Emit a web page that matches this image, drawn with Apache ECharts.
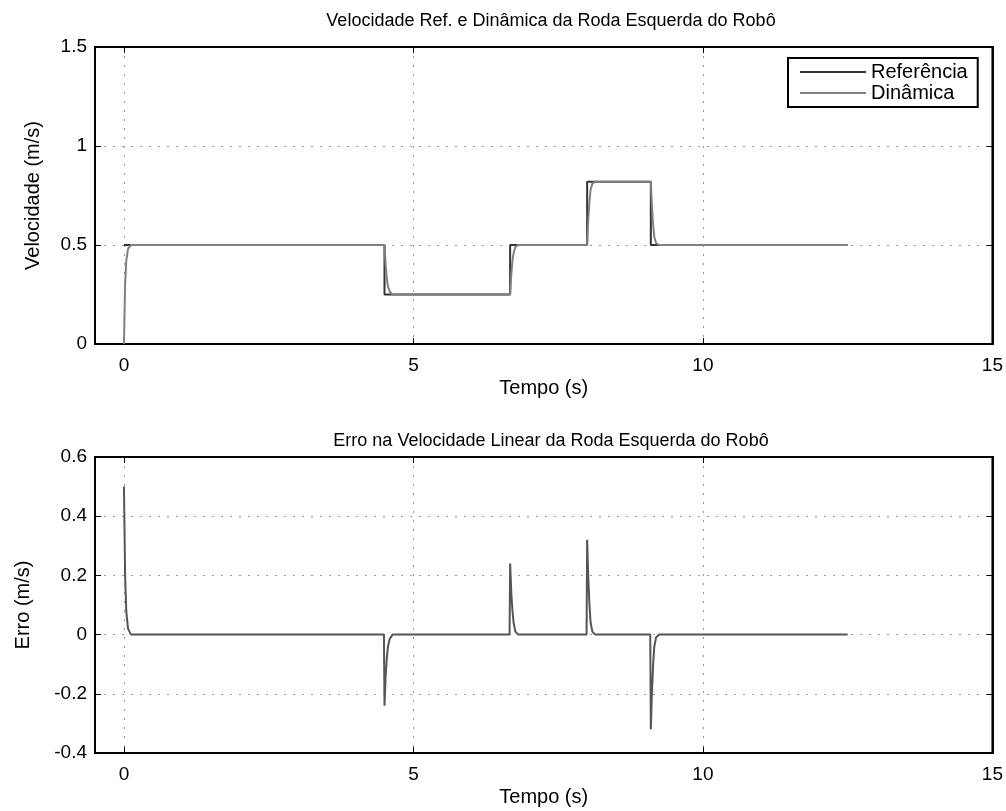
<!DOCTYPE html>
<html>
<head>
<meta charset="utf-8">
<title>Velocidade Roda Esquerda</title>
<script src="https://cdn.jsdelivr.net/npm/echarts@6/dist/echarts.min.js"></script>
<style>
  html, body { margin: 0; padding: 0; background: #fff; }
  #main { width: 1006px; height: 811px; }
</style>
</head>
<body>
<div id="main"></div>
<script>
// tempo (s) e valores
var xTicks = [0, 5, 10, 15];

// referencia (degraus)
var refT = [0, 4.5, 4.5, 6.67, 6.67, 8.0, 8.0, 9.1, 9.1, 12.5];
var refV = [0.5, 0.5, 0.25, 0.25, 0.5, 0.5, 0.82, 0.82, 0.5, 0.5];

// dinamica da roda
var dynT = [0, 0.02, 0.04, 0.07, 0.12, 4.5, 4.52, 4.54, 4.56, 4.59, 4.64, 6.67, 6.69, 6.71, 6.73, 6.76, 6.81,
            8.0, 8.02, 8.04, 8.06, 8.09, 8.14, 9.1, 9.12, 9.14, 9.16, 9.19, 9.24, 12.5];
var dynV = [0, 0.3, 0.42, 0.48, 0.5, 0.5, 0.4, 0.33, 0.29, 0.265, 0.25, 0.25, 0.35, 0.42, 0.46, 0.49, 0.5,
            0.5, 0.63, 0.72, 0.78, 0.81, 0.82, 0.82, 0.69, 0.6, 0.54, 0.51, 0.5, 0.5];

// erro
var errT = [0, 0.02, 0.04, 0.07, 0.12, 4.49, 4.5, 4.52, 4.54, 4.56, 4.59, 4.64, 6.66, 6.67, 6.69, 6.71, 6.73, 6.76, 6.81,
            7.99, 8.0, 8.02, 8.04, 8.06, 8.09, 8.14, 9.09, 9.1, 9.12, 9.14, 9.16, 9.19, 9.24, 12.5];
var errV = [0.5, 0.2, 0.08, 0.02, 0, 0, -0.24, -0.14, -0.08, -0.04, -0.015, 0, 0, 0.24, 0.14, 0.08, 0.04, 0.01, 0,
            0, 0.32, 0.19, 0.1, 0.04, 0.01, 0, 0, -0.32, -0.19, -0.1, -0.04, -0.01, 0, 0];

function zip(a, b) {
  var out = [];
  for (var i = 0; i < a.length; i++) out.push([a[i], b[i]]);
  return out;
}

var font = 'Liberation Sans, Arial, sans-serif';
var gridLine = { show: true, lineStyle: { color: '#999', width: 1, type: [2, 7] } };

function xAx(gi, bottom) {
  return {
    type: 'value', gridIndex: gi, min: -0.5, max: 15,
    position: bottom ? 'bottom' : 'top',
    name: bottom ? 'Tempo (s)' : '', nameLocation: 'middle', nameGap: 34,
    nameTextStyle: { color: '#000', fontSize: 20, fontFamily: font },
    axisLine: { show: true, onZero: false, lineStyle: { color: '#000', width: 2 } },
    axisTick: { show: true, inside: true, length: 6, customValues: xTicks, lineStyle: { color: '#000' } },
    axisLabel: { show: bottom, customValues: xTicks, color: '#000', fontSize: 19, fontFamily: font, margin: 12 },
    splitLine: bottom ? gridLine : { show: false }
  };
}

function yAx(gi, left, min, max, step, name, gap) {
  return {
    type: 'value', gridIndex: gi, min: min, max: max, interval: step,
    position: left ? 'left' : 'right',
    name: left ? name : '', nameLocation: 'middle', nameGap: gap,
    nameTextStyle: { color: '#000', fontSize: 20, fontFamily: font },
    axisLine: { show: true, onZero: false, lineStyle: { color: '#000', width: 2 } },
    axisTick: { show: true, inside: true, length: 6, lineStyle: { color: '#000' } },
    axisLabel: { show: left, color: '#000', fontSize: 19, fontFamily: font, margin: 8 },
    splitLine: left ? gridLine : { show: false }
  };
}

var chart = echarts.init(document.getElementById('main'));
chart.setOption({
  backgroundColor: '#fff',
  animation: false,
  title: [
    { text: 'Velocidade Ref. e Dinâmica da Roda Esquerda do Robô', left: 546, top: 7, textAlign: 'center',
      textStyle: { color: '#000', fontSize: 18, fontWeight: 'normal', fontFamily: font } },
    { text: 'Erro na Velocidade Linear da Roda Esquerda do Robô', left: 546, top: 427, textAlign: 'center',
      textStyle: { color: '#000', fontSize: 18, fontWeight: 'normal', fontFamily: font } }
  ],
  legend: {
    data: ['Referência', 'Dinâmica'],
    orient: 'vertical', left: 788, top: 58,
    icon: 'rect', itemWidth: 66, itemHeight: 2, itemGap: 1,
    padding: [4, 10, 4, 12],
    backgroundColor: '#fff', borderColor: '#000', borderWidth: 2,
    textStyle: { color: '#000', fontSize: 20, fontFamily: font }
  },
  grid: [
    { left: 95, right: 13, top: 47, height: 297, show: true, borderColor: '#000', borderWidth: 2 },
    { left: 95, right: 13, top: 457, height: 296, show: true, borderColor: '#000', borderWidth: 2 }
  ],
  xAxis: [xAx(0, true), xAx(0, false), xAx(1, true), xAx(1, false)],
  yAxis: [
    yAx(0, true, 0, 1.5, 0.5, 'Velocidade (m/s)', 52), yAx(0, false, 0, 1.5, 0.5, '', 0),
    yAx(1, true, -0.4, 0.6, 0.2, 'Erro (m/s)', 62), yAx(1, false, -0.4, 0.6, 0.2, '', 0)
  ],
  series: [
    { name: 'Referência', type: 'line', xAxisIndex: 0, yAxisIndex: 0, data: zip(refT, refV),
      showSymbol: false, lineStyle: { color: '#333', width: 2 }, itemStyle: { color: '#333' } },
    { name: 'Dinâmica', type: 'line', xAxisIndex: 0, yAxisIndex: 0, data: zip(dynT, dynV),
      showSymbol: false, lineStyle: { color: '#808080', width: 2 }, itemStyle: { color: '#808080' } },
    { name: 'Erro', type: 'line', xAxisIndex: 2, yAxisIndex: 2, data: zip(errT, errV),
      showSymbol: false, lineStyle: { color: '#555', width: 2 } }
  ]
});
</script>
</body>
</html>
